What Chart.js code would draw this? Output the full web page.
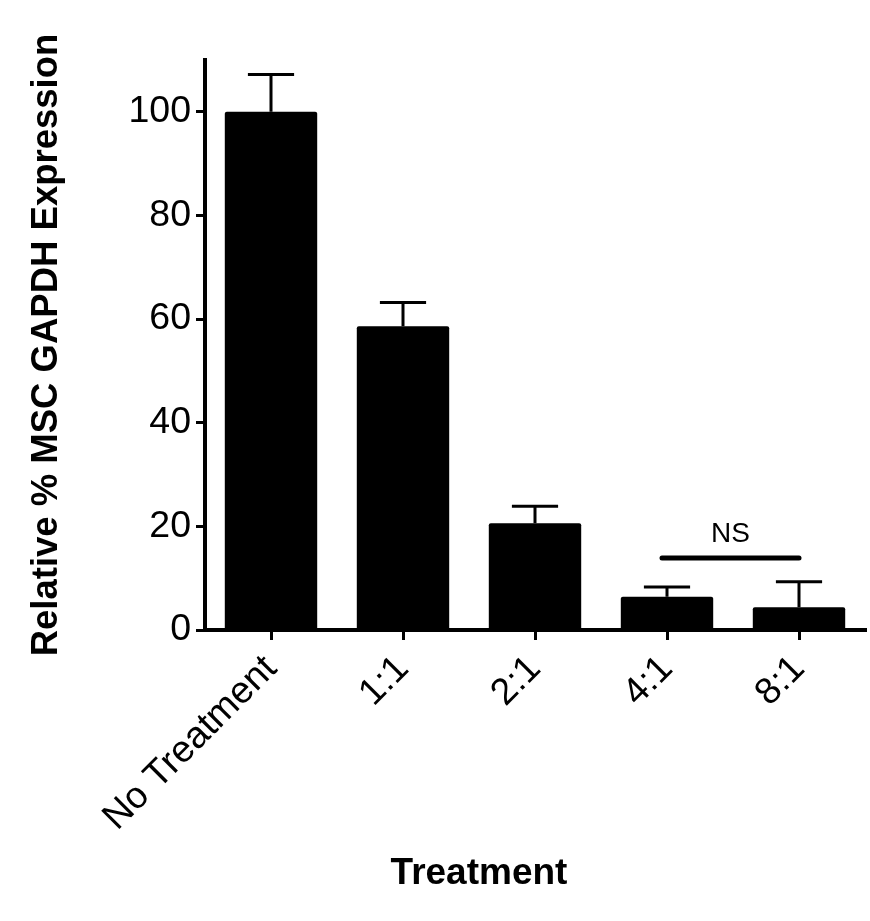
<!DOCTYPE html>
<html>
<head>
<meta charset="utf-8">
<script src="https://cdn.jsdelivr.net/npm/chart.js@4.4.0/dist/chart.umd.min.js"></script>
<style>
  html, body { margin: 0; padding: 0; background: #fff; }
  #wrap { width: 870px; height: 921px; }
</style>
</head>
<body>
<div id="wrap"><canvas id="chart" width="870" height="921"></canvas></div>
<script>
// Dados
const categories = ['No Treatment', '1:1', '2:1', '4:1', '8:1'];
const means = [100, 58.6, 20.6, 6.4, 4.4];
const errors = [7.2, 4.6, 3.3, 1.9, 4.9];
const yTicks = [0, 20, 40, 60, 80, 100];
const nsPair = [3, 4];      // comparação 4:1 vs 8:1
const nsLevel = 13.9;
const nsLabel = 'NS';
const xTitle = 'Treatment';
const yTitle = 'Relative % MSC GAPDH Expression';

const FONT = '"Liberation Sans", Arial, Helvetica, sans-serif';

// Plugin para barras de erro, linha NS e título do eixo X
const extras = {
    id: 'extras',
    afterDatasetsDraw(chart) {
        const ctx = chart.ctx;
        const x = chart.scales.x, y = chart.scales.y;
        const meta = chart.getDatasetMeta(0);
        ctx.save();
        ctx.strokeStyle = '#000';
        ctx.lineWidth = 3;
        meta.data.forEach((bar, i) => {
            const cx = bar.x;
            const top = y.getPixelForValue(means[i] + errors[i]);
            const half = bar.width / 4;
            ctx.beginPath();
            ctx.moveTo(cx, y.getPixelForValue(means[i]));
            ctx.lineTo(cx, top);
            ctx.moveTo(cx - half, top);
            ctx.lineTo(cx + half, top);
            ctx.stroke();
        });

        // linha NS
        const ly = y.getPixelForValue(nsLevel);
        const x1 = x.getPixelForValue(nsPair[0]) - 5;
        const x2 = x.getPixelForValue(nsPair[1]);
        ctx.lineWidth = 5;
        ctx.lineCap = 'round';
        ctx.beginPath();
        ctx.moveTo(x1, ly);
        ctx.lineTo(x2, ly);
        ctx.stroke();
        ctx.fillStyle = '#000';
        ctx.font = '28px ' + FONT;
        ctx.textAlign = 'center';
        ctx.textBaseline = 'alphabetic';
        ctx.fillText(nsLabel, (x1 + x2) / 2, ly - 16);

        // título do eixo X
        ctx.font = 'bold 37px ' + FONT;
        ctx.fillText(xTitle, 479, 884);
        ctx.restore();
    }
};

new Chart(document.getElementById('chart'), {
    type: 'bar',
    data: {
        labels: categories,
        datasets: [{
            data: means,
            backgroundColor: '#000',
            borderRadius: 2,
            borderSkipped: 'bottom',
            barPercentage: 0.7,
            categoryPercentage: 1
        }]
    },
    options: {
        responsive: false,
        animation: false,
        layout: { padding: { top: 60, right: 5, left: 0, bottom: 0 } },
        plugins: { legend: { display: false }, tooltip: { enabled: false } },
        scales: {
            x: {
                afterFit: s => { s.height = 291; },
                grid: { offset: false, drawOnChartArea: false, color: '#000', lineWidth: 3, tickLength: 10 },
                border: { display: true, color: '#000', width: 4 },
                ticks: {
                    color: '#000', font: { family: FONT, size: 37.5 },
                    minRotation: 45, maxRotation: 45, autoSkip: false, padding: 7
                }
            },
            y: {
                min: 0, max: 110,
                afterFit: s => { s.width = 205; },
                afterBuildTicks: s => { s.ticks = yTicks.map(v => ({ value: v })); },
                grid: { drawOnChartArea: false, color: '#000', lineWidth: 3, tickLength: 9 },
                border: { display: true, color: '#000', width: 4 },
                ticks: { color: '#000', font: { family: FONT, size: 37.5 }, padding: 5 },
                title: {
                    display: true, text: yTitle, color: '#000',
                    font: { family: FONT, size: 36.5, weight: 'bold', lineHeight: 1 },
                    padding: { top: 29, bottom: 0 }
                }
            }
        }
    },
    plugins: [extras]
});
</script>
</body>
</html>
